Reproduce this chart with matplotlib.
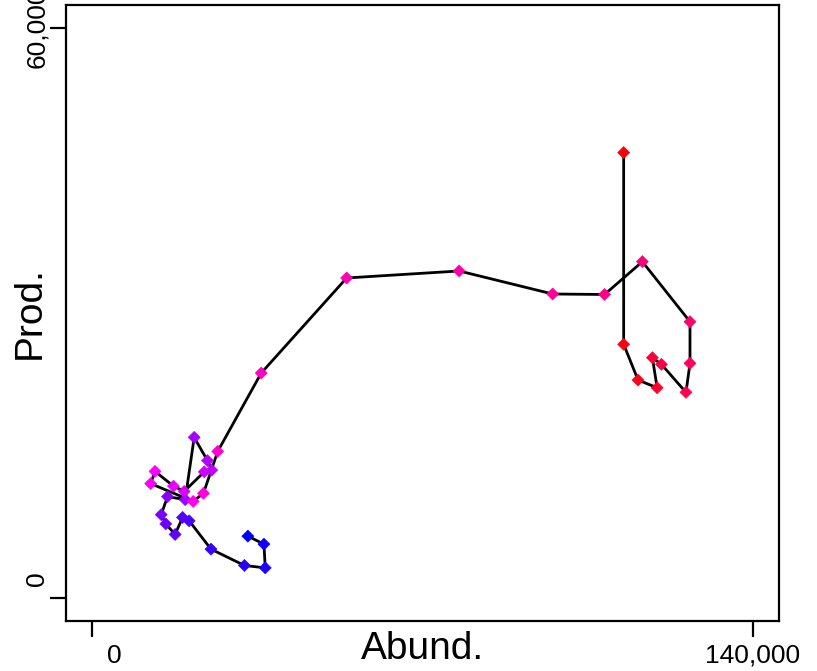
import numpy as np
import matplotlib
matplotlib.use('Agg')
import matplotlib.pyplot as plt
from matplotlib.transforms import ScaledTranslation

plt.rcParams['font.family'] = ['Liberation Sans', 'DejaVu Sans']

# abundance / production path, in time order (blue = early, red = late)
abund = [32965, 36374, 36652, 32240, 25145, 20520, 19114, 17537, 15556, 14597,
         15918, 19668, 21586, 24399, 25294, 23717, 19455, 17196, 13276, 12359,
         21373, 23546, 26572, 35799, 53912, 77778, 97595, 108611, 116625, 126725,
         126725, 125873, 120673, 118755, 119757, 115708, 112662, 112662]
prod = [6526, 5684, 3189, 3442, 5158, 8137, 8495, 6705, 7821, 8789,
        10684, 10368, 16916, 14474, 13474, 13294, 11232, 11789, 13337, 12053,
        10179, 11032, 15442, 23684, 33684, 34421, 32000, 31947, 35400, 29084,
        24705, 21653, 24600, 25295, 22137, 22947, 26705, 46874]

x_ticks = [0, 140000]
x_ticklabels = ['0', '140,000']
y_ticks = [0, 60000]
y_ticklabels = ['0', '60,000']

# blue -> magenta -> red ramp
n = len(abund)
t = np.linspace(0, 1, n)
r = np.clip(t * 2, 0, 1)
b = np.clip(2 - t * 2, 0, 1)
colors = np.column_stack([r, np.zeros(n), b])

fig = plt.figure(figsize=(8.17, 6.71), dpi=100)
ax = fig.add_axes([66 / 817, 50 / 671, 713 / 817, 616 / 671])

ax.plot(abund, prod, color='black', lw=2.0, zorder=2)
ax.scatter(abund, prod, c=colors, marker='D', s=38, linewidths=0.4,
           edgecolors=colors, zorder=3)

ax.set_xlim(-0.04 * 140000, 1.04 * 140000)
ax.set_ylim(-0.04 * 60000, 1.04 * 60000)

ax.set_xticks(x_ticks)
ax.set_xticklabels(x_ticklabels, fontsize=19)
ax.set_yticks(y_ticks)
ax.set_yticklabels(y_ticklabels, fontsize=19, rotation=90, va='center')
ax.tick_params(axis='both', length=11.5, width=1.6, color='black')
ax.tick_params(axis='x', pad=5)
ax.tick_params(axis='y', pad=1)

for s in ax.spines.values():
    s.set_linewidth(1.6)

# R puts the "0" labels a bit off their ticks
lx = ax.get_xticklabels()[0]
lx.set_transform(lx.get_transform() + ScaledTranslation(15.8 / 72, 0, fig.dpi_scale_trans))
ly = ax.get_yticklabels()[0]
ly.set_transform(ly.get_transform() + ScaledTranslation(0, 13.7 / 72, fig.dpi_scale_trans))

ax.set_xlabel('Abund.', fontsize=28)
ax.xaxis.set_label_coords(0.5, -0.016)
ax.set_ylabel('Prod.', fontsize=28)
ax.yaxis.set_label_coords(-0.025, 0.5)

fig.savefig('out.png', dpi=100)
